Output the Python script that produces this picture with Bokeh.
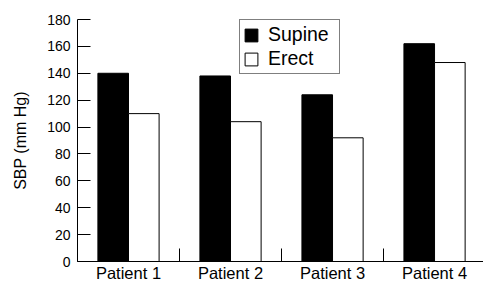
from bokeh.plotting import figure
from bokeh.models import Range1d, FixedTicker, Legend, LegendItem, ColumnDataSource
from bokeh.embed import file_html
from bokeh.resources import INLINE

patients = ["Patient 1", "Patient 2", "Patient 3", "Patient 4"]
supine = [140, 138, 124, 162]
erect = [110, 104, 92, 148]
y_ticks = [0, 20, 40, 60, 80, 100, 120, 140, 160, 180]

FONT = "Liberation Sans"
BAR_W = 0.3

idx = list(range(len(patients)))
src = ColumnDataSource(dict(
    xs=[i + 0.5 - BAR_W / 2 for i in idx],
    xe=[i + 0.5 + BAR_W / 2 for i in idx],
    supine=supine,
    erect=erect,
))

p = figure(width=483, height=284, output_backend="svg", toolbar_location=None,
           x_range=Range1d(0, 3.98), y_range=Range1d(0, 180),
           min_border_left=77, min_border_right=0, min_border_top=19, min_border_bottom=21)
p.outline_line_color = None
p.xgrid.grid_line_color = None
p.ygrid.grid_line_color = None
p.background_fill_color = "white"
p.border_fill_color = "white"

r1 = p.vbar(x="xs", top="supine", bottom=0, width=BAR_W, source=src,
            fill_color="black", line_color="black", line_width=1)
r2 = p.vbar(x="xe", top="erect", bottom=0, width=BAR_W, source=src,
            fill_color="white", line_color="black", line_width=1)

# x axis: labels at category centres, separator ticks at category edges
xa = p.xaxis[0]
xa.ticker = FixedTicker(ticks=[i + 0.5 for i in idx], minor_ticks=list(range(len(patients) + 1)))
xa.major_label_overrides = {i + 0.5: patients[i] for i in idx}
xa.major_tick_in = 0
xa.major_tick_out = 0
xa.minor_tick_in = 13
xa.minor_tick_out = 0
xa.minor_tick_line_color = "black"
xa.axis_line_color = "black"
xa.major_label_text_font = FONT
xa.major_label_text_font_size = "16.5px"
xa.major_label_text_color = "black"
xa.major_label_standoff = 2

# y axis: inward ticks drawn as minor ticks at the tick values
ya = p.yaxis[0]
ya.ticker = FixedTicker(ticks=y_ticks, minor_ticks=y_ticks)
ya.major_tick_in = 0
ya.major_tick_out = 0
ya.minor_tick_in = 13
ya.minor_tick_out = 0
ya.minor_tick_line_color = "black"
ya.minor_tick_line_width = 1
ya.axis_line_color = "black"
ya.major_label_text_font = FONT
ya.major_label_text_font_size = "14px"
ya.major_label_text_color = "black"
ya.major_label_standoff = 7
ya.axis_label = "SBP (mm Hg)"
ya.axis_label_text_font = FONT
ya.axis_label_text_font_size = "16px"
ya.axis_label_text_font_style = "normal"
ya.axis_label_text_color = "black"
ya.axis_label_standoff = 15

legend = Legend(items=[LegendItem(label="Supine", renderers=[r1]),
                       LegendItem(label="Erect", renderers=[r2])],
                location=(162, 187))
legend.border_line_color = "black"
legend.border_line_width = 1
legend.background_fill_alpha = 1
legend.label_text_font = FONT
legend.label_text_font_size = "19.5px"
legend.label_text_color = "black"
legend.glyph_width = 16
legend.glyph_height = 16
legend.label_height = 16
legend.label_width = 68
legend.label_standoff = 9
legend.spacing = 1
legend.padding = 3
legend.margin = 0
p.add_layout(legend)

open("out.html", "w").write(file_html(p, INLINE))
